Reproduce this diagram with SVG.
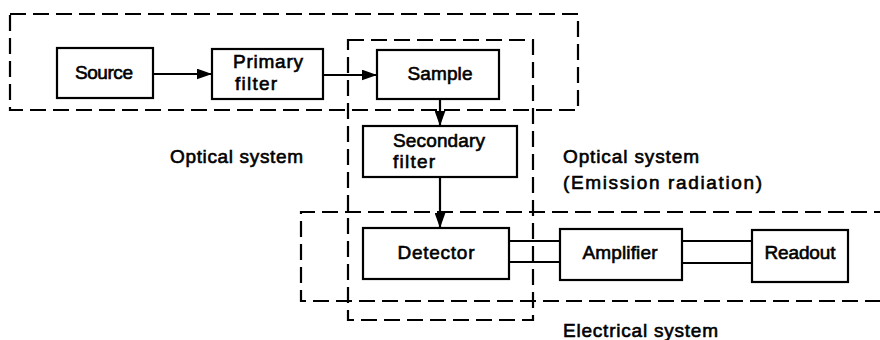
<svg xmlns="http://www.w3.org/2000/svg" width="880" height="340" viewBox="0 0 880 340">
<style>
.box{fill:#fff;stroke:#000;stroke-width:2.2}
.dash{fill:none;stroke:#000;stroke-width:2.2;stroke-dasharray:16 7}
.ln{fill:none;stroke:#000;stroke-width:2.2}
text{font-family:"Liberation Sans",Arial,sans-serif;font-size:19px;fill:#000;stroke:#000;stroke-width:0.6}
.c{text-anchor:middle}
</style>
<defs>
<marker id="ah" viewBox="0 0 14 10" refX="14" refY="5" markerWidth="15" markerHeight="11" markerUnits="userSpaceOnUse" orient="auto">
<path d="M0,0 L14,5 L0,10 Z" fill="#000"/>
</marker>
</defs>
<g id="regions">
<rect class="dash" x="10" y="14" width="568" height="96"/>
<rect class="dash" x="348" y="40" width="185" height="280"/>
<path class="dash" d="M890,212 H301 V301 H890"/>
<text x="170" y="163" textLength="133" lengthAdjust="spacing">Optical system</text>
<text x="563" y="163" textLength="136" lengthAdjust="spacing">Optical system</text>
<text x="563" y="189" textLength="199" lengthAdjust="spacing">(Emission radiation)</text>
<text x="563" y="337" textLength="155" lengthAdjust="spacing">Electrical system</text>
</g>
<g id="connectors">
<line class="ln" x1="153" y1="74" x2="212" y2="74" marker-end="url(#ah)"/>
<line class="ln" x1="323" y1="75" x2="377" y2="75" marker-end="url(#ah)"/>
<line class="ln" x1="440" y1="99" x2="440" y2="126" marker-end="url(#ah)"/>
<line class="ln" x1="440" y1="177" x2="440" y2="228" marker-end="url(#ah)"/>
<line class="ln" x1="509" y1="241" x2="560" y2="241"/>
<line class="ln" x1="509" y1="262" x2="560" y2="262"/>
<line class="ln" x1="682" y1="241" x2="752" y2="241"/>
<line class="ln" x1="682" y1="263" x2="752" y2="263"/>
</g>
<g id="source">
<rect class="box" x="57" y="48" width="96" height="50"/>
<text class="c" x="104" y="79" textLength="58" lengthAdjust="spacing">Source</text>
</g>
<g id="primary-filter">
<rect class="box" x="212" y="49" width="111" height="50"/>
<text x="233" y="68" textLength="70" lengthAdjust="spacing">Primary</text>
<text x="235" y="90" textLength="42" lengthAdjust="spacing">filter</text>
</g>
<g id="sample">
<rect class="box" x="377" y="50" width="122" height="49"/>
<text class="c" x="440" y="80" textLength="65" lengthAdjust="spacing">Sample</text>
</g>
<g id="secondary-filter">
<rect class="box" x="363" y="126" width="154" height="51"/>
<text x="393" y="147" textLength="92" lengthAdjust="spacing">Secondary</text>
<text x="393" y="168" textLength="42" lengthAdjust="spacing">filter</text>
</g>
<g id="detector">
<rect class="box" x="363" y="228" width="146" height="51"/>
<text class="c" x="436" y="259" textLength="77" lengthAdjust="spacing">Detector</text>
</g>
<g id="amplifier">
<rect class="box" x="560" y="229" width="122" height="51"/>
<text class="c" x="620" y="259" textLength="75" lengthAdjust="spacing">Amplifier</text>
</g>
<g id="readout">
<rect class="box" x="752" y="230" width="96" height="52"/>
<text class="c" x="800" y="259" textLength="71" lengthAdjust="spacing">Readout</text>
</g>
</svg>
